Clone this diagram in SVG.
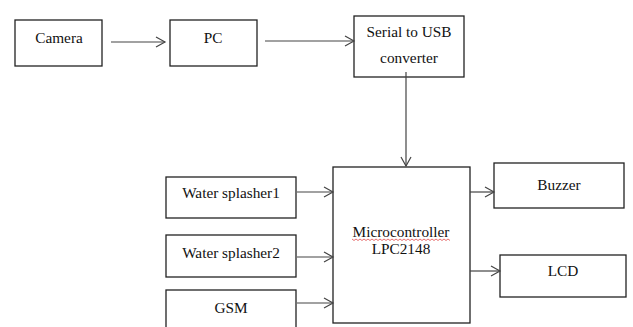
<svg xmlns="http://www.w3.org/2000/svg" width="633" height="327" viewBox="0 0 633 327">
<style>
.box{fill:#fff;stroke:#222;stroke-width:1.3}
.t{font-family:"Liberation Serif","Times New Roman",serif;font-size:15.3px;fill:#111;text-anchor:middle}
.c{fill:none;stroke:#444;stroke-width:1.2;marker-end:url(#ah)}
</style>
<defs>
<marker id="ah" markerWidth="12" markerHeight="12" refX="10" refY="6" orient="auto" markerUnits="userSpaceOnUse">
<path d="M1,1 L10,6 L1,11" fill="none" stroke="#444" stroke-width="1.2"/>
</marker>
</defs>
<rect width="633" height="327" fill="#fff"/>
<g id="camera"><rect class="box" x="15" y="20" width="87" height="46"/><text class="t" x="59" y="43">Camera</text></g>
<g id="pc"><rect class="box" x="170" y="20" width="87" height="46"/><text class="t" x="213" y="43">PC</text></g>
<g id="serial"><rect class="box" x="354" y="16" width="110" height="61"/><text class="t" x="409" y="37">Serial to USB</text><text class="t" x="409" y="63">converter</text></g>
<g id="micro"><rect class="box" x="333" y="167" width="137" height="156"/><text class="t" x="401" y="237">Microcontroller</text><text class="t" x="401" y="254">LPC2148</text>
<path d="M352,239 l2,1.5 l2,-1.5 l2,1.5 l2,-1.5 l2,1.5 l2,-1.5 l2,1.5 l2,-1.5 l2,1.5 l2,-1.5 l2,1.5 l2,-1.5 l2,1.5 l2,-1.5 l2,1.5 l2,-1.5 l2,1.5 l2,-1.5 l2,1.5 l2,-1.5 l2,1.5 l2,-1.5 l2,1.5 l2,-1.5 l2,1.5 l2,-1.5 l2,1.5 l2,-1.5 l2,1.5 l2,-1.5 l2,1.5 l2,-1.5 l2,1.5 l2,-1.5 l2,1.5 l2,-1.5 l2,1.5 l2,-1.5 l2,1.5 l2,-1.5 l2,1.5 l2,-1.5 l2,1.5 l2,-1.5 l2,1.5 l2,-1.5 l2,1.5 l2,-1.5 l2,1.5" fill="none" stroke="#d33" stroke-width="0.7"/></g>
<g id="ws1"><rect class="box" x="166" y="177" width="130" height="41"/><text class="t" x="231" y="198">Water splasher1</text></g>
<g id="ws2"><rect class="box" x="166" y="235" width="130" height="42"/><text class="t" x="231" y="258">Water splasher2</text></g>
<g id="gsm"><rect class="box" x="166" y="290" width="130" height="45"/><text class="t" x="231" y="313">GSM</text></g>
<g id="buzzer"><rect class="box" x="494" y="163" width="130" height="45"/><text class="t" x="559" y="190">Buzzer</text></g>
<g id="lcd"><rect class="box" x="500" y="255" width="126" height="42"/><text class="t" x="563" y="276">LCD</text></g>
<g id="connectors">
<path class="c" d="M111,42 H165"/>
<path class="c" d="M265,41 H354"/>
<path class="c" d="M406,72 V166"/>
<path class="c" d="M297,192 H333"/>
<path class="c" d="M297,257 H333"/>
<path class="c" d="M297,303 H333"/>
<path class="c" d="M470,192 H494"/>
<path class="c" d="M470,271 H500"/>
</g>
</svg>
